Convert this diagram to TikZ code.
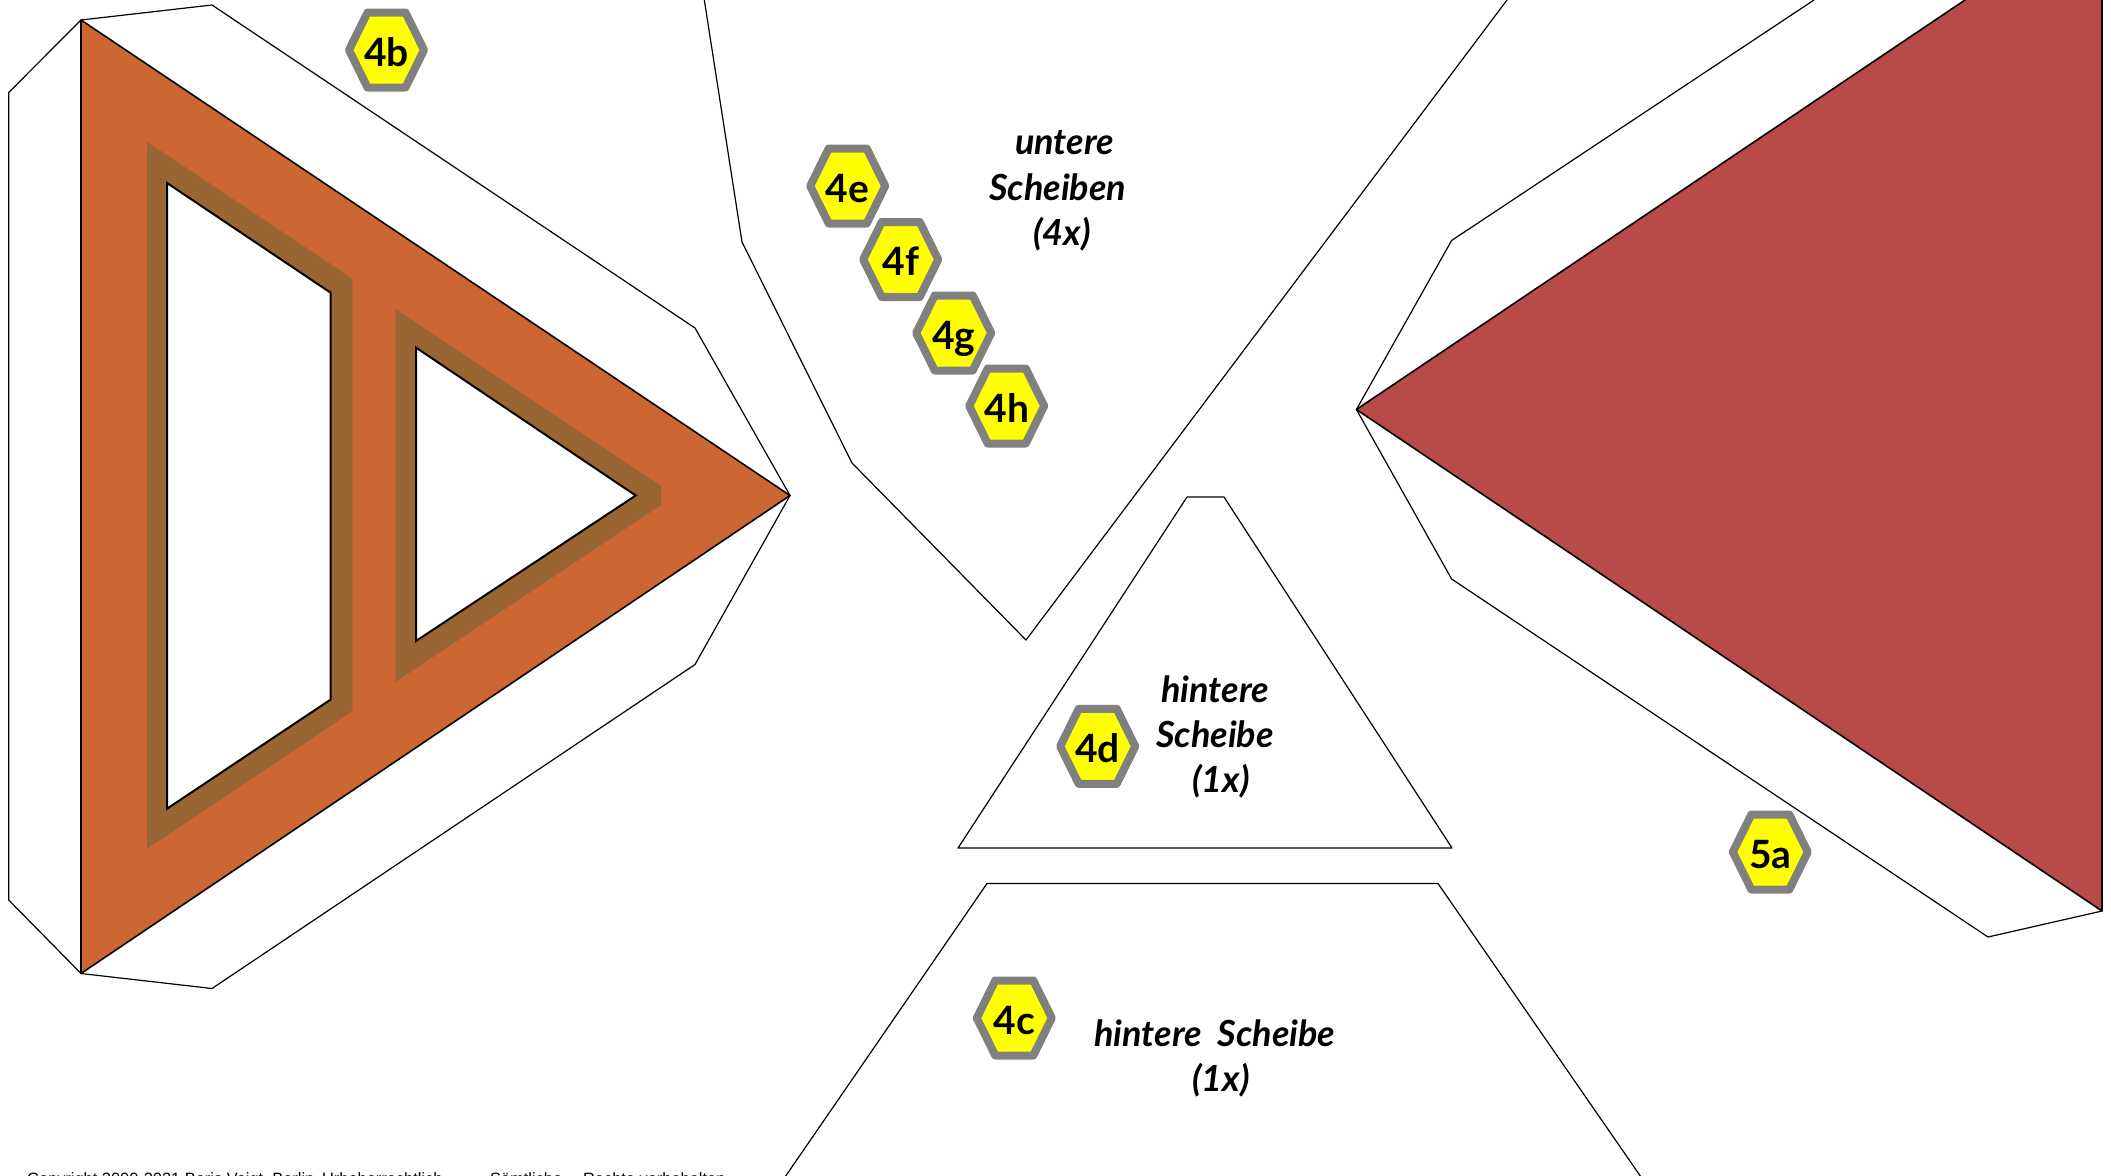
\documentclass[tikz,border=0pt]{standalone}
\usepackage{fontspec}
\setmainfont{Liberation Sans}
\newfontfamily\badgefont{Lato}
\definecolor{woodorange}{HTML}{CC6633}
\definecolor{woodbrown}{HTML}{996633}
\definecolor{partred}{HTML}{B84A4A}
\definecolor{badgegray}{HTML}{808080}
\definecolor{badgeyellow}{HTML}{FFFF00}
\tikzset{
  thinline/.style={draw=black,line width=1.2pt,line join=round,fill=white},
  partedge/.style={draw=black,line width=1.6pt,line join=round},
  holeedge/.style={draw=black,line width=2pt,line join=miter,fill=white},
  hexshape/.style={draw=badgegray,fill=badgeyellow,line width=8pt,line join=round},
  badgetext/.style={anchor=base,inner sep=0pt,font=\badgefont\bfseries\fontsize{39}{39}\selectfont,text=black},
  cartext/.style={anchor=base west,inner sep=0pt,font=\badgefont\bfseries\itshape\fontsize{36}{36}\selectfont,text=black},
  copytext/.style={anchor=base west,inner sep=0pt,font=\fontsize{16.4}{16.4}\selectfont,text=black}
}
\newcommand{\hexbadge}[4]{%
  \begin{scope}[shift={(#1,#2)}]
    \draw[hexshape] (-37.5,0) -- (-19,-37.5) -- (19,-37.5) -- (37.5,0) -- (19,37.5) -- (-19,37.5) -- cycle;
    \node[badgetext] (#3) at (0,16) {#4};
  \end{scope}}
\begin{document}
\begin{tikzpicture}[x=1pt,y=-1pt]
\useasboundingbox (0,0) rectangle (2111,1175);
\fill[white] (0,0) rectangle (2111,1175);
\clip (0,0) rectangle (2111,1175);
% left part
\draw[thinline] (81,20) -- (212,5) -- (695,328) -- (790,495.5) -- (695,664.5) -- (212,988.5) -- (81,973.5) -- (8.7,900) -- (8.7,92.5) -- cycle;
\draw[partedge,fill=woodorange] (81,20) -- (790,495.5) -- (81,973.5) -- cycle;
\fill[woodbrown] (147,141.6) -- (352.6,278.7) -- (352.6,711) -- (147,849) -- cycle;
\draw[holeedge] (167,183) -- (330.6,292.7) -- (330.6,699.6) -- (167,808.7) -- cycle;
\fill[woodbrown] (395.4,309) -- (661,486) -- (661,505) -- (395.4,682) -- cycle;
\draw[holeedge] (416,347.6) -- (635.7,495.5) -- (416,641) -- cycle;
% lower discs
\draw[thinline] (704,-2) -- (742,242) -- (852,463) -- (1026,640) -- (1507,0);
\draw[thinline] (1187,497) -- (1224,497) -- (1452,848) -- (958,848) -- cycle;
\draw[thinline] (785,1177) -- (987,883.5) -- (1438,883.5) -- (1641,1177);
% right part
\draw[thinline] (1814,0) -- (1451.6,240.5) -- (1356.4,409.5) -- (1451.6,579) -- (1988,937) -- (2102,911);
\draw[partedge,fill=partred] (1965,0) -- (1356.4,409.5) -- (2102,911) -- (2102,-5) -- (1965,-5) -- cycle;
% badges
\hexbadge{386.5}{50}{b4b}{4b}
\hexbadge{847.7}{186}{b4e}{4e}
\hexbadge{900.7}{259.5}{b4f}{4f}
\hexbadge{953.7}{333}{b4g}{4g}
\hexbadge{1006.7}{406}{b4h}{4h}
\hexbadge{1097.7}{746.3}{b4d}{4d}
\hexbadge{1014.3}{1018}{b4c}{4c}
\hexbadge{1770.3}{852}{b5a}{5a}
% captions
\node[cartext] (t1) at (1015,154) {untere};
\node[cartext] (t2) at (989,200) {Scheiben};
\node[cartext] (t3) at (1033,245) {(4x)};
\node[cartext] (t4) at (1161,702) {hintere};
\node[cartext] (t5) at (1156,747) {Scheibe};
\node[cartext] (t6) at (1192,792) {(1x)};
\node[cartext] (t7) at (1094,1046) {hintere\ \ Scheibe};
\node[cartext] (t8) at (1192,1091) {(1x)};
\node[copytext] (t9) at (27,1184) {\makebox[295pt][l]{Copyright 2000-2021 Boris Voigt, Berlin}\makebox[168pt][l]{Urheberrechtlich}\makebox[93pt][l]{Sämtliche}Rechte vorbehalten};
\end{tikzpicture}
\end{document}
